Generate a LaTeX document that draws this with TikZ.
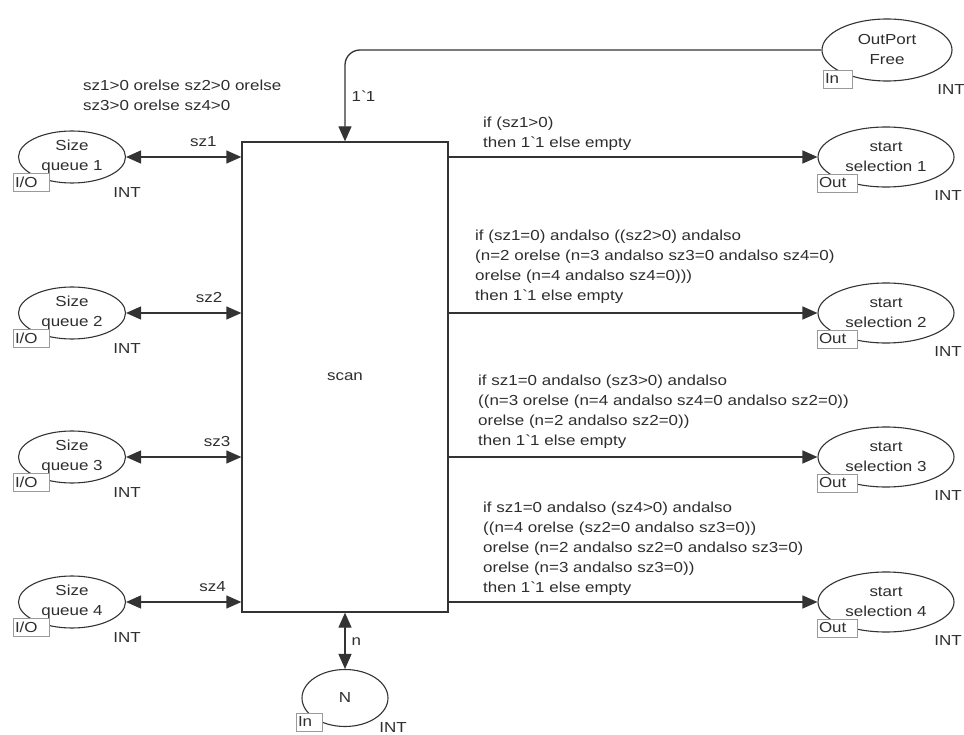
\documentclass[tikz,border=0pt]{standalone}
\usepackage{fontspec}
\setmainfont{Liberation Sans}[FakeStretch=1.17]
\usetikzlibrary{arrows.meta,shapes.geometric}
\definecolor{ln}{HTML}{333333}
\definecolor{tx}{HTML}{2E2E2E}
\definecolor{bx}{HTML}{9A9A9A}
\begin{document}
\begin{tikzpicture}[x=1pt,y=-1pt,
  every node/.style={font=\fontsize{14.5}{20}\selectfont, text=tx, inner sep=0pt},
  lplace/.style={draw=ln, line width=1.1pt, ellipse, align=center, fill=white, minimum width=107pt, minimum height=52pt},
  rplace/.style={draw=ln, line width=1.1pt, ellipse, align=center, fill=white, minimum width=136pt, minimum height=60pt},
  portbox/.style={draw=bx, line width=0.8pt, fill=white, minimum height=18pt, inner xsep=2pt, align=left},
  trans/.style={draw=ln, line width=1.3pt, fill=white},
  arc/.style={draw=ln, line width=1.3pt},
  code/.style={anchor=north west, align=left},
  >={Triangle[length=15pt,width=13pt]}
]
\useasboundingbox (0,0) rectangle (964,735);

% transition
\node[trans, minimum width=206pt, minimum height=470pt] (scan) at (345,377) {scan};

% left places
\node[lplace] (q1) at (72,157) {Size\\queue 1};
\node[lplace] (q2) at (72,313) {Size\\queue 2};
\node[lplace] (q3) at (72,457) {Size\\queue 3};
\node[lplace] (q4) at (72,602) {Size\\queue 4};
\node[portbox, text width=32pt] (io1) at (31,182) {I/O};
\node[portbox, text width=32pt] (io2) at (31,338) {I/O};
\node[portbox, text width=32pt] (io3) at (31,482) {I/O};
\node[portbox, text width=32pt] (io4) at (31,627) {I/O};
\node (ti1) at (127,193) {INT};
\node (ti2) at (127,349) {INT};
\node (ti3) at (127,493) {INT};
\node (ti4) at (127,638) {INT};

% right places
\node[rplace] (s1) at (886,157) {start\\selection 1};
\node[rplace] (s2) at (886,313) {start\\selection 2};
\node[rplace] (s3) at (886,457) {start\\selection 3};
\node[rplace] (s4) at (886,602) {start\\selection 4};
\node[portbox, text width=36pt] (o1) at (837,183) {Out};
\node[portbox, text width=36pt] (o2) at (837,339) {Out};
\node[portbox, text width=36pt] (o3) at (837,483) {Out};
\node[portbox, text width=36pt] (o4) at (837,628) {Out};
\node (to1) at (948,196) {INT};
\node (to2) at (948,352) {INT};
\node (to3) at (948,496) {INT};
\node (to4) at (948,641) {INT};

% OutPort Free
\node[rplace, minimum width=130pt, minimum height=62pt] (op) at (887,50) {OutPort\\Free};
\node[portbox, text width=25pt] (opin) at (837.5,79) {In};
\node (opt) at (951,90) {INT};

% N
\node[lplace, minimum width=86pt, minimum height=57pt] (N) at (345,698) {N};
\node[portbox, text width=22pt] (nin) at (309,722) {In};
\node (nt) at (393,728) {INT};

% arcs
\draw[arc,<->] (q1.east) -- node[pos=0.67, above=10pt]{sz1} (q1.east -| scan.west);
\draw[arc,<->] (q2.east) -- node[pos=0.72, above=10pt]{sz2} (q2.east -| scan.west);
\draw[arc,<->] (q3.east) -- node[pos=0.79, above=10pt]{sz3} (q3.east -| scan.west);
\draw[arc,<->] (q4.east) -- node[pos=0.75, above=10pt]{sz4} (q4.east -| scan.west);

\draw[arc,->] (s1.west -| scan.east) -- (s1.west);
\draw[arc,->] (s2.west -| scan.east) -- (s2.west);
\draw[arc,->] (s3.west -| scan.east) -- (s3.west);
\draw[arc,->] (s4.west -| scan.east) -- (s4.west);

\draw[arc,->,rounded corners=15pt] (op.west) -- (op.west -| scan.north) -- node[pos=0.5, right=6pt]{1\textasciigrave 1} (scan.north);
\draw[arc,<->] (scan.south) -- node[pos=0.52, right=6pt]{n} (N.north);

% inscriptions
\node[code] (g) at (83,79.5) {sz1>0 orelse sz2>0 orelse\\sz3>0 orelse sz4>0};
\node[code] (e1) at (483,116.5) {if (sz1>0)\\then 1\textasciigrave 1 else empty};
\node[code] (e2) at (475,229.5) {if (sz1=0) andalso ((sz2>0) andalso\\(n=2 orelse (n=3 andalso sz3=0 andalso sz4=0)\\orelse (n=4 andalso sz4=0)))\\then 1\textasciigrave 1 else empty};
\node[code] (e3) at (478,374.5) {if sz1=0 andalso (sz3>0) andalso\\((n=3 orelse (n=4 andalso sz4=0 andalso sz2=0))\\orelse (n=2 andalso sz2=0))\\then 1\textasciigrave 1 else empty};
\node[code] (e4) at (483,501.5) {if sz1=0 andalso (sz4>0) andalso\\((n=4 orelse (sz2=0 andalso sz3=0))\\orelse (n=2 andalso sz2=0 andalso sz3=0)\\orelse (n=3 andalso sz3=0))\\then 1\textasciigrave 1 else empty};
\end{tikzpicture}
\end{document}
